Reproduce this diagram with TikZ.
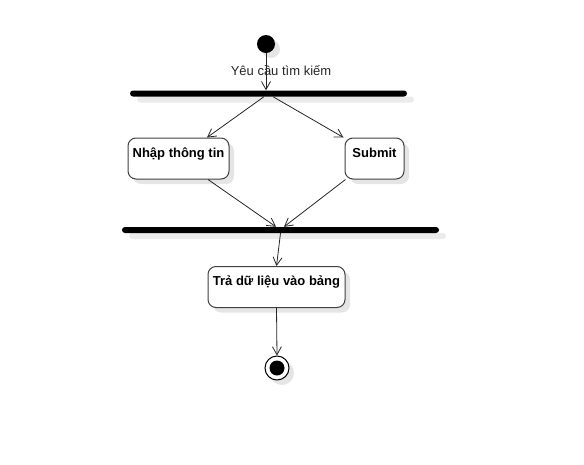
\documentclass[tikz,border=0pt]{standalone}
\usepackage{fontspec}
\setmainfont{Liberation Sans}
\usetikzlibrary{arrows.meta,shadows}

\tikzset{
  bong/.style={drop shadow={shadow xshift=5pt,shadow yshift=-5pt,fill=black!10,opacity=1}},
  hoatdong/.style={draw=black!75,line width=1pt,rounded corners=8pt,fill=white,bong,
    minimum height=41pt,inner ysep=0pt,inner xsep=2pt,text height=19pt,text depth=22pt,
    font=\fontsize{13}{15}\selectfont\bfseries},
  thanh/.style={fill=black,rounded corners=3pt,minimum height=6pt,inner sep=0pt,
    drop shadow={shadow xshift=7pt,shadow yshift=-6pt,fill=black!8,opacity=1}},
  muiten/.style={-{Straight Barb[length=8pt,width=9pt]},line width=0.8pt,draw=black!85}
}

\begin{document}
\begin{tikzpicture}[x=1pt,y=-1pt]
  \useasboundingbox (0,0) rectangle (584,464);

  % bat dau
  \node[circle,fill=black,minimum size=18pt,inner sep=0pt,bong] (batdau) at (266,44) {};
  \node[font=\fontsize{13}{15}\selectfont,text=black!85] (yeucau) at (281,71) {Yêu cầu tìm kiếm};

  % thanh chia
  \node[thanh,minimum width=277pt] (chia) at (268.5,93.5) {};
  \node[hoatdong,minimum width=101pt] (nhap) at (178.5,158.5) {Nhập thông tin};
  \node[hoatdong,minimum width=59pt] (submit) at (374.5,158.5) {Submit};

  % thanh gop
  \node[thanh,minimum width=317pt] (gop) at (280.5,230) {};
  \node[hoatdong,minimum width=137pt] (tra) at (276.5,287) {Trả dữ liệu vào bảng};

  % ket thuc
  \node[circle,draw=black,line width=1pt,fill=white,minimum size=24pt,inner sep=0pt,bong] (ketthuc) at (277,368) {};
  \node[circle,fill=black,minimum size=15pt,inner sep=0pt] at (ketthuc) {};

  % mui ten
  \draw[muiten] (batdau.south) -- (batdau.south |- chia.north);
  \draw[muiten] ([xshift=-4.5pt]chia.south) -- ([xshift=28.5pt]nhap.north);
  \draw[muiten] ([xshift=4.5pt]chia.south) -- ([xshift=-1pt]submit.north west);
  \draw[muiten] ([xshift=29.5pt]nhap.south) -- ([xshift=-4.5pt]gop.north);
  \draw[muiten] ([xshift=1pt]submit.south west) -- ([xshift=3.5pt]gop.north);
  \draw[muiten] (gop.south) -- (tra.north);
  \draw[muiten] (tra.south) -- (ketthuc.north);
\end{tikzpicture}
\end{document}
